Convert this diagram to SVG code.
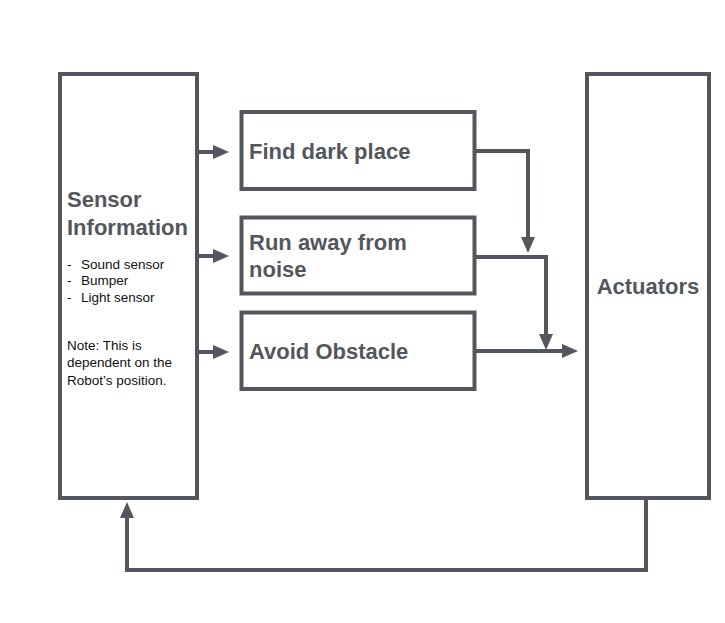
<svg xmlns="http://www.w3.org/2000/svg" width="725" height="623" viewBox="0 0 725 623">
<style>
.box{fill:#fff;stroke:#53575d;stroke-width:4}
.ln{fill:none;stroke:#53575d;stroke-width:4}
.t{font-family:"Liberation Sans",Arial,sans-serif;font-weight:bold;font-size:22px;fill:#53575d}
.s{font-family:"Liberation Sans",Arial,sans-serif;font-size:13.5px;fill:#111}
</style>
<defs>
<marker id="ah" markerWidth="16" markerHeight="14" refX="0" refY="7" orient="auto" markerUnits="userSpaceOnUse">
<path d="M0,0 L16,7 L0,14 Z" fill="#53575d"/>
</marker>
</defs>
<rect width="725" height="623" fill="#fff"/>
<g id="connectors">
<path class="ln" d="M199,152 H213" marker-end="url(#ah)"/>
<path class="ln" d="M199,256 H213" marker-end="url(#ah)"/>
<path class="ln" d="M199,352 H213" marker-end="url(#ah)"/>
<path class="ln" d="M476,151 H528 V237" marker-end="url(#ah)"/>
<path class="ln" d="M476,257 H546 V334" marker-end="url(#ah)"/>
<path class="ln" d="M476,351 H562" marker-end="url(#ah)"/>
<path class="ln" d="M646,499 V570 H127 V518" marker-end="url(#ah)"/>
</g>
<g id="sensor">
<rect class="box" x="60" y="74" width="137" height="424"/>
<text class="t" x="67" y="207">Sensor</text>
<text class="t" x="67" y="235">Information</text>
<text class="s" x="67" y="269">-</text><text class="s" x="81" y="269">Sound sensor</text>
<text class="s" x="67" y="285">-</text><text class="s" x="81" y="285">Bumper</text>
<text class="s" x="67" y="302">-</text><text class="s" x="81" y="302">Light sensor</text>
<text class="s" x="67" y="350">Note: This is</text>
<text class="s" x="67" y="367">dependent on the</text>
<text class="s" x="67" y="385">Robot’s position.</text>
</g>
<g id="find-dark">
<rect class="box" x="241.5" y="112" width="233" height="77"/>
<text class="t" x="249" y="159">Find dark place</text>
</g>
<g id="run-away">
<rect class="box" x="241.5" y="217.5" width="233" height="76"/>
<text class="t" x="249" y="250">Run away from</text>
<text class="t" x="249" y="277">noise</text>
</g>
<g id="avoid">
<rect class="box" x="241.5" y="312.5" width="233" height="76.5"/>
<text class="t" x="249" y="359">Avoid Obstacle</text>
</g>
<g id="actuators">
<rect class="box" x="587" y="74" width="122" height="424"/>
<text class="t" x="648" y="294" text-anchor="middle">Actuators</text>
</g>
</svg>
